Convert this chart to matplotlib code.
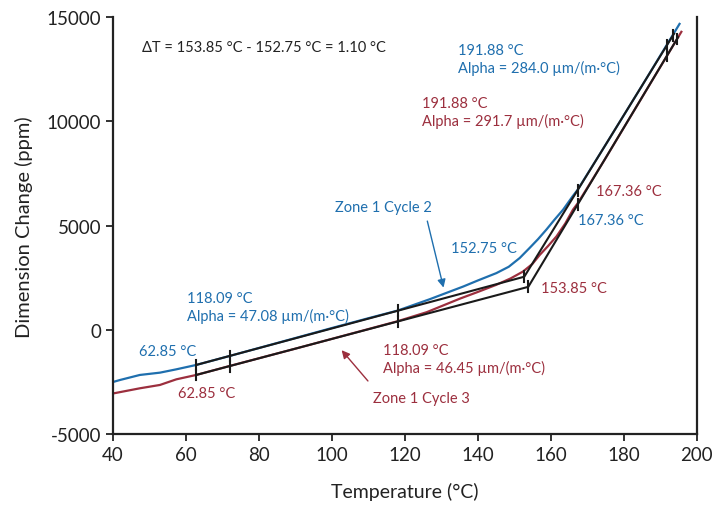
import numpy as np
import matplotlib
matplotlib.use('Agg')
import matplotlib.pyplot as plt

plt.rcParams['font.family'] = ['Lato', 'DejaVu Sans']
plt.rcParams['axes.unicode_minus'] = False

BLUE = '#1f6fae'
RED = '#9c2f3e'

# Zone 1 Cycle 2 (blue)
temp_c2 = [40, 42, 47.4, 52.9, 57.4, 62.85, 72, 90, 100, 110, 118.09, 126.8, 136, 140, 145.1,
           148.5, 151.5, 154.2, 156.5, 158.8, 161, 163.4, 166, 167.36, 175, 185, 195.3]
dim_c2 = [-2500, -2400, -2160, -2050, -1890, -1680, -1250, -390, 90, 560, 930, 1470, 2080, 2370, 2725,
          3030, 3450, 3930, 4350, 4810, 5280, 5770, 6410, 6720, 8870, 11710, 14680]

# Zone 1 Cycle 3 (red)
temp_c3 = [40, 47.4, 52.9, 57.4, 62.85, 72, 90, 100, 110, 118.09, 126, 135.1, 140, 145.1,
           149, 152.4, 155, 157, 159.3, 161.6, 164, 166.1, 167.5, 175, 185, 195.8]
dim_c3 = [-3050, -2800, -2640, -2370, -2160, -1730, -900, -430, 40, 420, 850, 1500, 1820, 2165,
          2470, 2800, 3170, 3600, 4030, 4490, 5110, 5770, 6100, 8230, 11150, 14300]

# tangent fits: start temp, start value, low alpha, onset, high alpha, end temp
fit_start = [62.85, 62.85]
fit_y0 = [-1680, -2160]
alpha_low = [47.08, 46.45]
onset = [152.75, 153.85]
alpha_high = [284.0, 291.7]
fit_end = [193.8, 194.9]
low_marks = [[62.85, 72.0, 118.09], [62.85, 72.0, 118.09]]
high_marks = [[167.36, 191.88, 193.5], [167.36, 191.88, 194.6]]

fig = plt.figure(figsize=(7.28, 5.06), dpi=100)
ax = fig.add_axes([0.155, 0.140, 0.802, 0.824])

ax.plot(temp_c2, dim_c2, color=BLUE, lw=1.6)
ax.plot(temp_c3, dim_c3, color=RED, lw=1.6)

for i in range(2):
    y_on = fit_y0[i] + alpha_low[i] * (onset[i] - fit_start[i])
    y_end = y_on + alpha_high[i] * (fit_end[i] - onset[i])
    ax.plot([fit_start[i], onset[i], fit_end[i]], [fit_y0[i], y_on, y_end], color='#1a1a1a', lw=1.5)
    marks = []
    for t in low_marks[i]:
        marks.append((t, fit_y0[i] + alpha_low[i] * (t - fit_start[i])))
    marks.append((onset[i], y_on))
    for t in high_marks[i]:
        marks.append((t, y_on + alpha_high[i] * (t - onset[i])))
    for t, y in marks:
        ax.plot([t, t], [y - 260, y + 260], color='#1a1a1a', lw=1.5)

fs = 10.5
ax.text(48, 13560, 'ΔT = 153.85 °C - 152.75 °C = 1.10 °C', fontsize=fs, va='center', color='#222222')
ax.text(134.5, 13000, '191.88 °C\nAlpha = 284.0 µm/(m·°C)', color=BLUE, fontsize=fs, va='center', linespacing=1.2)
ax.text(124.8, 10450, '191.88 °C\nAlpha = 291.7 µm/(m·°C)', color=RED, fontsize=fs, va='center', linespacing=1.2)
ax.text(101, 5900, 'Zone 1 Cycle 2', color=BLUE, fontsize=fs, va='center')
ax.annotate('', xy=(130.8, 1900), xytext=(126, 5350),
            arrowprops=dict(arrowstyle='-|>', color=BLUE, lw=1, mutation_scale=12))
ax.text(132.6, 3940, '152.75 °C', color=BLUE, fontsize=fs, va='center')
ax.text(172.3, 6680, '167.36 °C', color=RED, fontsize=fs, va='center')
ax.text(167.5, 5290, '167.36 °C', color=BLUE, fontsize=fs, va='center')
ax.text(157.2, 2020, '153.85 °C', color=RED, fontsize=fs, va='center')
ax.text(60.3, 1110, '118.09 °C\nAlpha = 47.08 µm/(m·°C)', color=BLUE, fontsize=fs, va='center', linespacing=1.2)
ax.text(47.1, -1010, '62.85 °C', color=BLUE, fontsize=fs, va='center')
ax.text(57.8, -3030, '62.85 °C', color=RED, fontsize=fs, va='center')
ax.text(114, -1400, '118.09 °C\nAlpha = 46.45 µm/(m·°C)', color=RED, fontsize=fs, va='center', linespacing=1.2)
ax.text(111.2, -3260, 'Zone 1 Cycle 3', color=RED, fontsize=fs, va='center')
ax.annotate('', xy=(102.2, -870), xytext=(110.4, -2550),
            arrowprops=dict(arrowstyle='-|>', color=RED, lw=1, mutation_scale=12))

ax.set_xlim(40, 200)
ax.set_ylim(-5000, 15000)
ax.set_xticks(np.arange(40, 201, 20))
ax.set_yticks(np.arange(-5000, 15001, 5000))
ax.spines['top'].set_visible(False)
for s in ['left', 'bottom', 'right']:
    ax.spines[s].set_linewidth(1.6)
    ax.spines[s].set_color('#222222')
ax.tick_params(axis='both', direction='out', length=5, width=1.3, labelsize=13.5, colors='#222222')
ax.set_xlabel('Temperature (°C)', fontsize=14, color='#222222', labelpad=14)
ax.set_ylabel('Dimension Change (ppm)', fontsize=14.5, color='#222222', labelpad=10)

fig.savefig('out.png', dpi=100)
